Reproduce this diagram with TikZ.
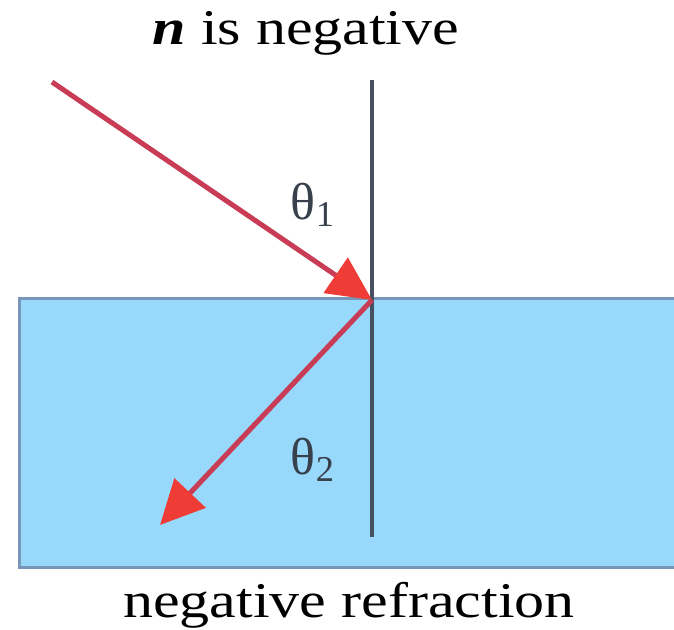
\documentclass[tikz,border=0pt]{standalone}
\usepackage{fontspec}
\setmainfont{Liberation Serif}
\usetikzlibrary{arrows.meta}
\definecolor{medium}{RGB}{152,216,250}
\definecolor{mediumedge}{RGB}{120,150,185}
\definecolor{raycol}{RGB}{200,60,85}
\definecolor{tipcol}{RGB}{240,60,55}
\definecolor{normalcol}{RGB}{70,80,95}
\newcommand{\widetext}[1]{\scalebox{1.2}[1]{#1}}
\tikzset{
  ray/.style={draw=raycol, line width=2.5pt,
    -{Triangle[length=22pt, width=21pt, color=tipcol, fill=tipcol]}},
  label/.style={font=\fontsize{25}{30}\selectfont, inner sep=0pt},
  angle/.style={font=\fontsize{26}{30}\selectfont, inner sep=0pt, text=normalcol!80!black}
}
\begin{document}
\begin{tikzpicture}[x=0.5pt, y=-0.5pt]
  % frame
  \useasboundingbox (0,0) rectangle (674,630);
  % medium
  \draw[fill=medium, draw=mediumedge, line width=1.5pt] (19,299) rectangle (680,567);
  % normal and points
  \coordinate (top) at (372,80);
  \coordinate (bottom) at (372,537);
  \coordinate (hit) at (372,300);
  \coordinate (source) at (52,82);
  \coordinate (exit) at (160,525);
  \draw[normalcol, line width=2pt] (top) -- (bottom);
  % rays
  \draw[ray] (source) -- (hit);
  \draw[ray] (hit) -- (exit);
  % labels
  \node[label, anchor=base] (title) at (306,45) {\widetext{\textbf{\textit{n}} is negative}};
  \node[label, anchor=base] (caption) at (349,617) {\widetext{negative refraction}};
  \node[angle] (theta1) at (313,205) {θ\textsubscript{1}};
  \node[angle] (theta2) at (313,460) {θ\textsubscript{2}};
\end{tikzpicture}
\end{document}
